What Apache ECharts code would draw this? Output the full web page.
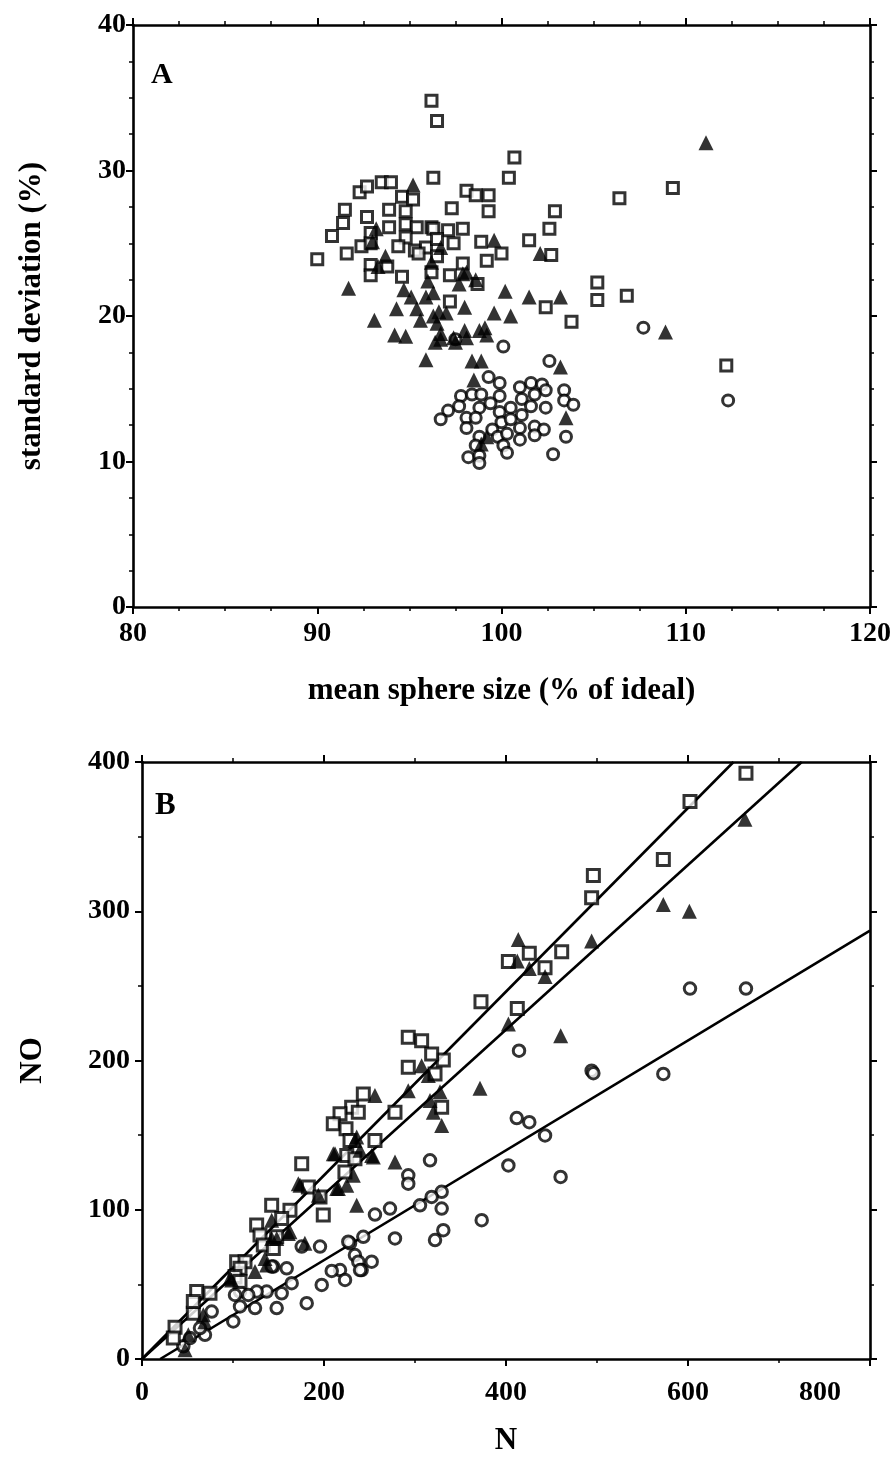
<!DOCTYPE html>
<html>
<head>
<meta charset="utf-8">
<script src="https://cdn.jsdelivr.net/npm/echarts@6/dist/echarts.min.js"></script>
<style>
html,body{margin:0;padding:0;background:#fff;}
#chart{width:895px;height:1457px;}
</style>
</head>
<body>
<div id="chart"></div>
<script>
// ---------- Panel A : mean sphere size (% of ideal) vs standard deviation (%) ----------
const topXTicks = [80, 90, 100, 110, 120];
const topYTicks = [0, 10, 20, 30, 40];
const topSquares = [
[96.2,34.8],[96.5,33.4],[100.7,30.9],[100.4,29.5],[96.3,29.5],[106.4,28.1],[109.3,28.8],
[90.0,23.9],[90.8,25.5],[91.4,26.4],[91.5,27.3],[92.3,28.5],[92.7,28.9],[93.5,29.2],[94.0,29.2],
[92.7,26.8],[93.9,27.3],[94.6,28.2],[95.2,28.0],[94.8,27.2],[94.8,26.3],[95.4,26.1],[96.2,26.1],
[93.9,26.1],[92.9,25.7],[94.8,25.4],[91.6,24.3],[92.4,24.8],[92.9,25.0],[94.4,24.8],[95.3,24.5],
[95.9,24.7],[96.2,23.0],[92.9,23.5],[92.9,22.8],[93.8,23.4],[94.6,22.7],[95.5,24.3],[96.5,24.1],
[98.1,28.6],[98.6,28.3],[99.3,28.3],[97.3,27.4],[99.3,27.2],[102.9,27.2],[102.6,26.0],[102.7,24.2],
[101.5,25.2],[97.1,25.9],[97.9,26.0],[96.3,26.0],[96.5,25.3],[97.4,25.0],[98.9,25.1],[100.0,24.3],
[99.2,23.8],[97.9,23.6],[97.2,22.8],[98.7,22.2],[97.2,21.0],[102.4,20.6],[103.8,19.6],[105.2,22.3],
[105.2,21.1],[106.8,21.4],[112.2,16.6]
];
const topTriangles = [
[95.2,29.0],[93.2,26.0],[93.0,25.1],[93.7,24.1],[93.3,23.4],[91.7,21.9],[94.7,21.8],[95.1,21.3],
[94.3,20.5],[95.4,20.5],[95.9,21.3],[93.1,19.7],[94.2,18.7],[94.8,18.6],[95.6,19.7],[96.3,20.0],
[96.4,18.2],[96.0,22.4],[96.2,23.7],[96.7,24.7],[96.3,21.6],[96.6,20.3],[96.7,18.8],
[97.9,22.9],[97.7,22.2],[98.6,22.5],[97.0,20.2],[96.5,19.5],[97.5,18.2],[98.1,18.5],[98.0,20.6],
[98.0,19.0],[98.8,19.0],[99.1,19.2],[99.6,20.2],[100.5,20.0],[100.2,21.7],[101.5,21.3],[103.2,21.3],
[99.6,25.2],[102.1,24.3],[98.1,23.0],
[95.9,17.0],[98.4,16.9],[98.9,16.9],[98.5,15.6],[103.2,16.5],[103.5,13.0],[99.2,18.7],[96.7,18.4],
[97.4,18.5],[99.2,11.7],[98.9,11.2],[111.1,31.9],[108.9,18.9]
];
const topCircles = [
[100.1,17.9],[102.6,16.9],[99.3,15.8],[99.9,15.4],[101.0,15.1],[101.6,15.4],[102.2,15.3],[102.4,14.9],
[103.4,14.9],[103.4,14.2],[103.9,13.9],[102.4,13.7],[97.8,14.5],[98.4,14.6],[98.9,14.6],[99.9,14.5],
[101.1,14.3],[101.8,14.6],[97.7,13.8],[98.8,13.7],[99.4,14.0],[99.9,13.4],[100.5,13.7],[101.1,13.2],
[101.6,13.8],[97.1,13.5],[96.7,12.9],[98.1,13.0],[98.6,13.0],[98.1,12.3],[100.0,12.7],[100.5,12.9],
[101.0,12.3],[101.8,12.4],[102.3,12.2],[101.8,11.8],[98.8,11.7],[99.5,12.2],[99.8,11.7],[100.3,11.9],
[101.0,11.5],[100.1,11.1],[98.6,11.1],[103.5,11.7],[98.2,10.3],[98.8,10.4],[98.8,9.9],[100.3,10.6],
[102.8,10.5],[97.5,18.4],[107.7,19.2],[112.3,14.2]
];

// ---------- Panel B : N vs NO ----------
const botXTicks = [0, 200, 400, 600, 800];
const botYTicks = [0, 100, 200, 300, 400];
const botSquares = [
[663.7,392.4],[602.2,373.5],[572.9,334.6],[496,323.9],[494.1,309],[461.2,272.9],[425.6,271.8],
[402.6,266.3],[442.9,262.2],[372.5,239.3],[412.4,234.9],[331.1,200.3],[329.3,168.7],
[292.6,215.5],[307.3,213.2],[318.3,204.3],[292.6,195.5],[322,191],[243.2,177.6],[230.4,168.7],
[237.7,165.4],[217.6,164.3],[210.2,157.6],[224.2,154.3],[278,165.4],[256,146.4],[228.6,146.4],
[225,136.4],[234,134.2],[223,125.3],[175.5,130.9],[182.8,115.3],[195.6,108.6],[199.2,96.4],
[142.5,103],[162.6,99.7],[153.5,94.2],[126,89.7],[129.7,83],[133.3,76.3],[148,81.9],[104,65.2],
[113.2,65.2],[107.7,60.8],[102.2,55.2],[60.1,45.2],[74.7,44.1],[36.3,21.2],[34.4,14],[56.4,30.7],
[56.4,38.5],[107.7,51.9],[144.3,74.1]
];
const botTriangles = [
[662.6,361.7],[572.9,304.5],[601.5,300],[494.1,280],[413.5,281.1],[412.4,266.7],[425.6,261.6],
[442.9,256.2],[402.6,224.4],[460.1,216.6],[371.4,181.4],[329.3,156.5],[327.5,179],
[256,176.5],[292.6,179.8],[307.3,196.5],[314.6,189.9],[316.5,173.2],[320.1,165.4],[278,132],
[254.2,135.4],[239.6,139.8],[234,146.4],[212.1,137.6],[232.2,123.1],[225,116.4],[215.8,114.2],
[235.9,103],[173.6,116.4],[193.8,109.7],[162.6,85.3],[142.5,93],[148,80.8],[135.2,67.4],
[124.2,58.6],[179,77.5],[98.5,53],[47.3,6.2],[50.9,16.2],[67.4,29.6],[69,25],[96.7,54.1],
[137,63],[142.5,80.8],[160.8,84.1],[171.8,117.5],[214,114.2],[210.2,137.6],[252.4,136.4],[235.9,148.7]
];
const botCircles = [
[602.2,248.2],[663.7,248.2],[414.3,206.6],[494.1,193.2],[496,191.5],[572.9,191],[411.8,161.4],
[425.6,158.7],[442.9,149.8],[402.6,129.7],[460,122],
[316.5,133.1],[292.6,123.1],[292.6,117.5],[373.3,93],[329.3,112],[318.3,108.6],[305.5,103],
[329.3,100.8],[331.1,86.3],[322,79.7],[272.5,100.8],[256,96.8],[278,80.8],[243.2,81.9],[228.6,77.5],
[234,69.6],[237.7,65.2],[252.4,65.2],[241.4,59.6],[217.6,59.6],[208.5,59],[223.1,53],[197.5,49.6],
[195.6,75.3],[175.5,75.3],[164.5,50.8],[159,60.8],[144.3,61.9],[137,45.2],[126,45.2],[107.7,45.2],
[153.5,44],[45.4,8.5],[69.2,16.2],[52.7,14],[63.7,20.7],[76.6,31.8],[100.3,25.2],[107.7,35.2],
[124.2,34.1],[148,34.1],[102.2,42.9],[116.8,42.9],[181,37.4],[142.5,61.9],[226.7,78.6],[239.6,59.6]
];
// fitted lines (end points)
const squareFit = [[0,0],[650,400]];
const triangleFit = [[0,0],[725,400]];
const circleFit = [[20,0],[800,287]];

const FONT = 'Liberation Serif';
const labelStyle = {color:'#000', fontFamily:FONT, fontWeight:'bold', fontSize:28};
const nameStyle = {color:'#000', fontFamily:FONT, fontWeight:'bold', fontSize:31};
const lineStyle = {color:'#000', width:2.6};

function axis(opts){
  const base = {
    type:'value',
    axisLine:{show:true, onZero:false, lineStyle:lineStyle},
    axisTick:{show:true, inside:false, length:7, lineStyle:{color:'#000', width:2}},
    minorTick:{show:true, length:4, lineStyle:{color:'#000', width:1.5}},
    splitLine:{show:false},
    minorSplitLine:{show:false}
  };
  return Object.assign(base, opts);
}
const openStyle = {color:'#fff', borderColor:'#000', borderWidth:3};

const chart = echarts.init(document.getElementById('chart'), null, {renderer:'canvas'});
chart.setOption({
  animation:false,
  backgroundColor:'#fff',
  grid:[
    {left:133, top:25, width:737, height:582},
    {left:142, top:762, width:728, height:599}
  ],
  xAxis:[
    axis({gridIndex:0, position:'bottom', min:topXTicks[0], max:topXTicks[topXTicks.length-1], interval:10,
      minorTick:{show:true, splitNumber:4, length:4, lineStyle:{color:'#000', width:1.5}},
      axisLabel:Object.assign({margin:13}, labelStyle),
      name:'mean sphere size (% of ideal)', nameLocation:'middle', nameGap:68, nameTextStyle:nameStyle}),
    axis({gridIndex:0, position:'top', min:topXTicks[0], max:topXTicks[topXTicks.length-1], interval:10,
      minorTick:{show:true, splitNumber:4, length:4, lineStyle:{color:'#000', width:1.5}},
      axisLabel:{show:false}}),
    axis({gridIndex:1, position:'bottom', min:botXTicks[0], max:botXTicks[botXTicks.length-1], interval:200,
      minorTick:{show:true, splitNumber:2, length:4, lineStyle:{color:'#000', width:1.5}},
      axisLabel:Object.assign({margin:20,
        formatter:function(v){ return v === botXTicks[botXTicks.length-1] ? '{s|' + v + '}' : String(v); },
        rich:{s:{fontFamily:FONT, fontWeight:'bold', fontSize:28, color:'#000', padding:[0,100,0,0]}}
      }, labelStyle),
      name:'N', nameLocation:'middle', nameGap:66, nameTextStyle:nameStyle}),
    axis({gridIndex:1, position:'top', min:botXTicks[0], max:botXTicks[botXTicks.length-1], interval:200,
      minorTick:{show:true, splitNumber:2, length:4, lineStyle:{color:'#000', width:1.5}},
      axisLabel:{show:false}})
  ],
  yAxis:[
    axis({gridIndex:0, position:'left', min:topYTicks[0], max:topYTicks[topYTicks.length-1], interval:10,
      minorTick:{show:true, splitNumber:4, length:4, lineStyle:{color:'#000', width:1.5}},
      axisLabel:Object.assign({margin:7}, labelStyle),
      name:'standard deviation (%)', nameLocation:'middle', nameGap:86, nameTextStyle:nameStyle}),
    axis({gridIndex:0, position:'right', min:topYTicks[0], max:topYTicks[topYTicks.length-1], interval:10,
      minorTick:{show:true, splitNumber:4, length:4, lineStyle:{color:'#000', width:1.5}},
      axisLabel:{show:false}}),
    axis({gridIndex:1, position:'left', min:botYTicks[0], max:botYTicks[botYTicks.length-1], interval:100,
      minorTick:{show:true, splitNumber:2, length:4, lineStyle:{color:'#000', width:1.5}},
      axisLabel:Object.assign({margin:12}, labelStyle),
      name:'NO', nameLocation:'middle', nameGap:94, nameTextStyle:nameStyle}),
    axis({gridIndex:1, position:'right', min:botYTicks[0], max:botYTicks[botYTicks.length-1], interval:100,
      minorTick:{show:true, splitNumber:2, length:4, lineStyle:{color:'#000', width:1.5}},
      axisLabel:{show:false}})
  ],
  graphic:[
    {type:'text', left:151, top:60, style:{text:'A', font:'bold 30px "Liberation Serif"', fill:'#000'}},
    {type:'text', left:155, top:790, style:{text:'B', font:'bold 31px "Liberation Serif"', fill:'#000'}}
  ],
  series:[
    {type:'scatter', xAxisIndex:0, yAxisIndex:0, data:topSquares, symbol:'rect', symbolSize:11,
      itemStyle:openStyle, z:2},
    {type:'scatter', xAxisIndex:0, yAxisIndex:0, data:topCircles, symbol:'circle', symbolSize:11,
      itemStyle:openStyle, z:3},
    {type:'scatter', xAxisIndex:0, yAxisIndex:0, data:topTriangles, symbol:'triangle', symbolSize:15,
      itemStyle:{color:'#000'}, z:4},

    {type:'line', xAxisIndex:2, yAxisIndex:2, data:squareFit, symbol:'none', clip:true,
      lineStyle:lineStyle, z:1},
    {type:'line', xAxisIndex:2, yAxisIndex:2, data:triangleFit, symbol:'none', clip:true,
      lineStyle:lineStyle, z:1},
    {type:'line', xAxisIndex:2, yAxisIndex:2, data:circleFit, symbol:'none', clip:true,
      lineStyle:lineStyle, z:1},
    {type:'scatter', xAxisIndex:2, yAxisIndex:2, data:botCircles, symbol:'circle', symbolSize:11.5,
      itemStyle:openStyle, z:2},
    {type:'scatter', xAxisIndex:2, yAxisIndex:2, data:botSquares, symbol:'rect', symbolSize:12,
      itemStyle:openStyle, z:3},
    {type:'scatter', xAxisIndex:2, yAxisIndex:2, data:botTriangles, symbol:'triangle', symbolSize:15,
      itemStyle:{color:'#000'}, z:4}
  ]
});
</script>
</body>
</html>
